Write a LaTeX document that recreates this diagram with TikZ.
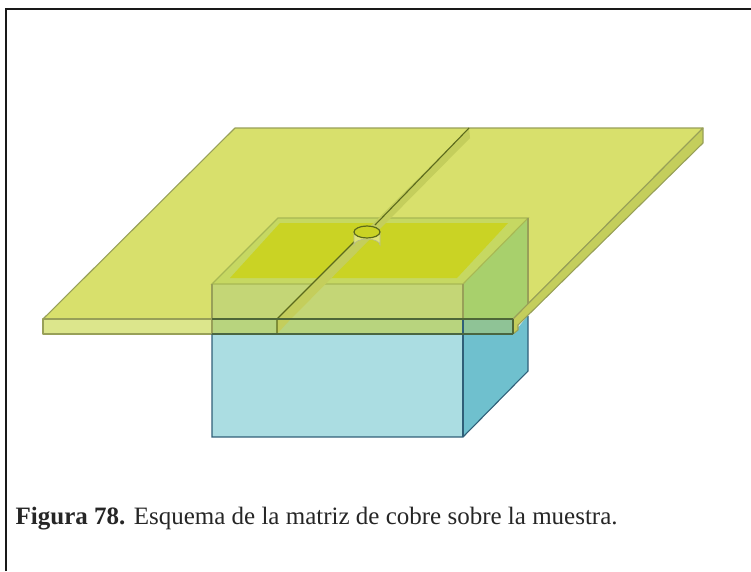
\documentclass[tikz,border=0pt]{standalone}
\usepackage{fontspec}
\setmainfont{Liberation Serif}
\tikzset{
  plate/.style={draw=#1, line width=1.1pt, line join=round},
  edgeline/.style={draw=#1, line width=1.1pt},
}
\definecolor{plateTop}{HTML}{D8E06C}
\definecolor{plateEdge}{HTML}{DCE68C}
\definecolor{plateSide}{HTML}{C4CE5C}
\definecolor{plateLine}{HTML}{98A058}
\definecolor{boxFront}{HTML}{ABDDE2}
\definecolor{boxSide}{HTML}{6FC0CE}
\definecolor{boxLine}{HTML}{2F5F78}
\definecolor{upperFront}{HTML}{C4D676}
\definecolor{upperSide}{HTML}{A8D06C}
\definecolor{upperTop}{HTML}{CAD324}
\definecolor{rimTop}{HTML}{C6D862}
\definecolor{overFront}{HTML}{B8D47E}
\definecolor{overSide}{HTML}{8FC396}
\definecolor{slitLine}{HTML}{5C6A1C}
\begin{document}
\begin{tikzpicture}[x=1pt,y=-1pt]
    \useasboundingbox (0,0) rectangle (751,571);
    \draw[line width=2pt, color=black!90] (6,571) -- (6,9) -- (751,9);
    % plate
    \path[plate=plateLine, fill=plateTop] (235,128) -- (703,128) -- (513,319) -- (43,319) -- cycle;
    \path[plate=plateLine, fill=plateEdge] (43,319) rectangle (513,334);
    % box lower part
    \fill[boxFront] (212,334) rectangle (463,437);
    \fill[boxSide] (463,334) -- (513,334) -- (528,315) -- (528,371) -- (463,437) -- cycle;
    % box upper part, seen through the plate
    \fill[rimTop] (212,284) -- (278,218) -- (528,218) -- (463,284) -- cycle;
    \fill[upperTop] (230,278) -- (280,223) -- (508,223) -- (457,278) -- cycle;
    \fill[upperFront] (212,284) rectangle (463,319);
    \fill[upperSide] (463,284) -- (528,218) -- (528,305) -- (513,319) -- (463,319) -- cycle;
    \fill[overFront] (212,319) rectangle (463,334);
    \fill[overSide] (463,319) rectangle (513,334);
    \draw[edgeline=rimTop!85!black] (212,284) -- (278,218) -- (528,218) -- (463,284) -- cycle;
    \draw[edgeline=boxLine] (212,334) -- (212,437) -- (463,437) -- (528,371) -- (528,316);
    \draw[edgeline=boxLine] (463,319) -- (463,437);
    \draw[edgeline=plateLine] (212,284) -- (212,334) (463,284) -- (463,319) (528,218) -- (528,305);
    % plate side
    \path[plate=plateLine, fill=plateSide] (703,128) -- (703,143) -- (518,325) -- (518,330) -- (513,334) -- (513,319) -- cycle;
    % strip
    \fill[plateSide] (469,128) -- (470,138) -- (287,323) -- (277,334) -- (277,319) -- cycle;
    \draw[edgeline=slitLine] (469,128) -- (375,225);
    \draw[edgeline=slitLine] (358,238) -- (277,319) -- (277,334);
    \draw[edgeline=slitLine!70!boxLine] (212,319) -- (513,319);
    \draw[edgeline=slitLine!60!boxLine] (212,334) -- (513,334);
    \draw[edgeline=slitLine!70!boxLine] (513,319) -- (513,334);
    % hole
    \fill[upperTop!60!white] (354,232) -- (354,245) arc[start angle=180, end angle=360, x radius=13, y radius=6] -- (380,232) -- cycle;
    \draw[plateLine!70, line width=0.6pt] (354,232) -- (354,245) arc[start angle=180, end angle=360, x radius=13, y radius=6] -- (380,232);
    \draw[slitLine, line width=1.2pt, fill=upperTop] (367,232) ellipse (13 and 6);
    % caption
    \node[anchor=base west, inner sep=0pt, font=\fontsize{25pt}{29pt}\selectfont, color=black!85] (caption) at (15.5,524) {\textbf{Figura 78.} Esquema de la matriz de cobre sobre la muestra.};
\end{tikzpicture}
\end{document}
